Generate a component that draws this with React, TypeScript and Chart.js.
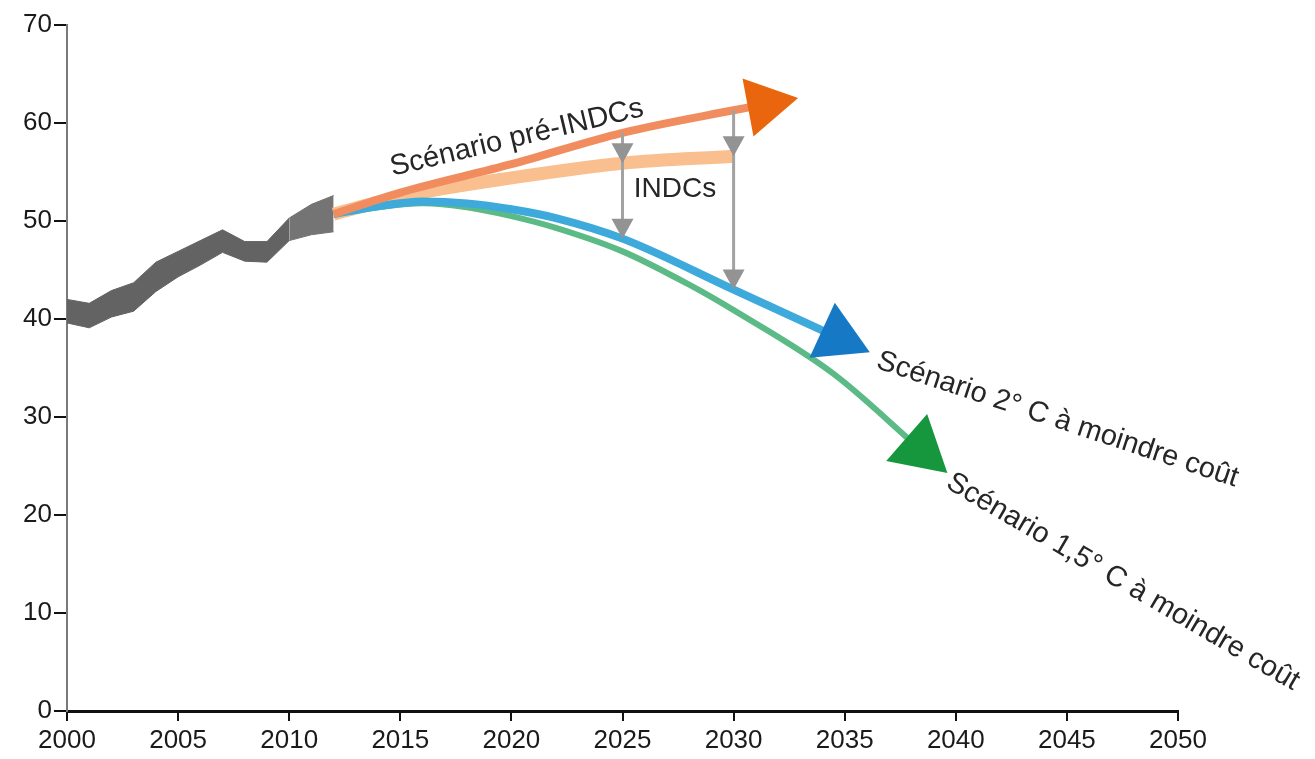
import React, { useEffect, useRef } from "react";
import { Chart, registerables } from "chart.js";

Chart.register(...registerables);

// ---------- data ----------
const histYears = [2000, 2001, 2002, 2003, 2004, 2005, 2006, 2007, 2008, 2009, 2010, 2011, 2012];
const histUpper = [42.0, 41.6, 42.9, 43.7, 45.8, 46.9, 48.0, 49.1, 47.9, 47.9, 50.3, 51.7, 52.6];
const histLower = [39.6, 39.1, 40.2, 40.8, 42.8, 44.3, 45.5, 46.8, 45.9, 45.8, 48.0, 48.6, 48.9];

const preIndcYears = [2012, 2015, 2020, 2025, 2030, 2031.4];
const preIndcValues = [50.7, 52.9, 55.8, 59.0, 61.3, 61.9];

const indcYears = [2012, 2015, 2020, 2025, 2030];
const indcValues = [50.7, 52.5, 54.4, 55.9, 56.6];

const twoDegYears = [2012, 2014, 2016, 2018, 2020, 2022, 2025, 2030, 2034.7];
const twoDegValues = [50.7, 51.5, 52.0, 51.8, 51.2, 50.3, 48.2, 43.0, 38.1];

const onePointFiveYears = [2012, 2014, 2016, 2018, 2020, 2022, 2025, 2028, 2030, 2034.5, 2038.4];
const onePointFiveValues = [50.7, 51.4, 51.8, 51.4, 50.5, 49.3, 46.9, 43.5, 40.9, 34.4, 26.7];

const gapYears = [2025, 2030];

const xTickValues = [2000, 2005, 2010, 2015, 2020, 2025, 2030, 2035, 2040, 2045, 2050];
const yTickValues = [0, 10, 20, 30, 40, 50, 60, 70];

const labelTexts = [
  "Scénario pré-INDCs",
  "INDCs",
  "Scénario 2° C à moindre coût",
  "Scénario 1,5° C à moindre coût",
];

// ---------- label placement (data coordinates) ----------
const labelPlacement = [
  { year: 2014.56, value: 55.4, angle: -13.4, align: "left", size: 29 },
  { year: 2027.36, value: 53.2, angle: 0, align: "center", size: 28 },
  { year: 2036.48, value: 35.8, angle: 18.3, align: "left", size: 29 },
  { year: 2039.68, value: 23.55, angle: 30.3, align: "left", size: 29 },
];

const FONT = "'Liberation Sans', Arial, Helvetica, sans-serif";

const toPoints = (xs: number[], ys: number[]) => xs.map((x, i) => ({ x, y: ys[i] }));
const valueAt = (xs: number[], ys: number[], yr: number) => ys[xs.indexOf(yr)];

const arrowHeadPlugin = {
  id: "arrowHeads",
  afterDatasetsDraw(chart: any) {
    const ctx = chart.ctx;
    chart.data.datasets.forEach((ds: any, i: number) => {
      if (!ds.arrowColor) return;
      const pts = chart.getDatasetMeta(i).data;
      const b = pts[pts.length - 1];
      const a = pts[pts.length - 2];
      const ang = Math.atan2(b.y - a.y, b.x - a.x);
      const r = ds.arrowRadius;
      ctx.save();
      ctx.fillStyle = ds.arrowColor;
      ctx.beginPath();
      for (let k = 0; k < 3; k++) {
        const t = ang + (k * 2 * Math.PI) / 3;
        const px = b.x + r * Math.cos(t);
        const py = b.y + r * Math.sin(t);
        if (k === 0) ctx.moveTo(px, py);
        else ctx.lineTo(px, py);
      }
      ctx.closePath();
      ctx.fill();
      ctx.restore();
    });
  },
};

const gapArrowPlugin = {
  id: "gapArrows",
  afterDatasetsDraw(chart: any) {
    const ctx = chart.ctx;
    const xs = chart.scales.x;
    const ys = chart.scales.y;
    gapYears.forEach((yr) => {
      const x = xs.getPixelForValue(yr);
      const y0 = ys.getPixelForValue(valueAt(preIndcYears, preIndcValues, yr));
      const y1 = ys.getPixelForValue(valueAt(indcYears, indcValues, yr));
      const y2 = ys.getPixelForValue(valueAt(twoDegYears, twoDegValues, yr));
      ctx.save();
      ctx.strokeStyle = "#a2a2a2";
      ctx.fillStyle = "#939393";
      ctx.lineWidth = 3;
      ctx.beginPath();
      ctx.moveTo(x, y0);
      ctx.lineTo(x, y2 - 10);
      ctx.stroke();
      [y1, y2].forEach((tip) => {
        ctx.beginPath();
        ctx.moveTo(x - 11, tip - 20);
        ctx.lineTo(x + 11, tip - 20);
        ctx.lineTo(x, tip);
        ctx.closePath();
        ctx.fill();
      });
      ctx.restore();
    });
  },
};

const textPlugin = {
  id: "scenarioTexts",
  afterDraw(chart: any) {
    const ctx = chart.ctx;
    const xs = chart.scales.x;
    const ys = chart.scales.y;
    labelTexts.forEach((txt, i) => {
      const p = labelPlacement[i];
      const x = xs.getPixelForValue(p.year);
      const y = ys.getPixelForValue(p.value);
      ctx.save();
      ctx.translate(x, y);
      ctx.rotate((p.angle * Math.PI) / 180);
      ctx.font = `${p.size}px ${FONT}`;
      ctx.fillStyle = "#262626";
      ctx.textAlign = p.align;
      ctx.textBaseline = "middle";
      ctx.fillText(txt, 0, 0);
      ctx.restore();
    });
  },
};

const histColor = (c: any) => (c.p0.parsed.x >= 2010 ? "#747474" : "#636363");

export default function App() {
  const canvasRef = useRef<HTMLCanvasElement | null>(null);

  useEffect(() => {
    if (!canvasRef.current) return;
    Chart.defaults.font.family = FONT;
    const chart = new Chart(canvasRef.current, {
      type: "line",
      data: {
        datasets: [
          {
            label: "Historique bas",
            data: toPoints(histYears, histLower),
            borderColor: "#636363",
            borderWidth: 1,
            pointRadius: 0,
            tension: 0,
            fill: false,
            order: 5,
            segment: { borderColor: histColor },
          },
          {
            label: "Historique",
            data: toPoints(histYears, histUpper),
            borderColor: "#636363",
            backgroundColor: "#636363",
            borderWidth: 1,
            pointRadius: 0,
            tension: 0,
            fill: "-1",
            order: 4,
            segment: { borderColor: histColor, backgroundColor: histColor },
          },
          {
            label: "INDCs",
            data: toPoints(indcYears, indcValues),
            borderColor: "#f9bf8f",
            borderWidth: 13,
            pointRadius: 0,
            cubicInterpolationMode: "monotone",
            borderCapStyle: "butt",
            fill: false,
            order: 3,
          },
          {
            label: "Scénario 1,5° C",
            data: toPoints(onePointFiveYears, onePointFiveValues),
            borderColor: "#5cba86",
            borderWidth: 6,
            pointRadius: 0,
            cubicInterpolationMode: "monotone",
            fill: false,
            order: 2,
            arrowColor: "#16973e",
            arrowRadius: 36,
          } as any,
          {
            label: "Scénario 2° C",
            data: toPoints(twoDegYears, twoDegValues),
            borderColor: "#3eaadc",
            borderWidth: 8,
            pointRadius: 0,
            cubicInterpolationMode: "monotone",
            fill: false,
            order: 1,
            arrowColor: "#1679c6",
            arrowRadius: 35,
          } as any,
          {
            label: "Scénario pré-INDCs",
            data: toPoints(preIndcYears, preIndcValues),
            borderColor: "#f18c5e",
            borderWidth: 8,
            pointRadius: 0,
            cubicInterpolationMode: "monotone",
            fill: false,
            order: 0,
            arrowColor: "#e9660f",
            arrowRadius: 34,
          } as any,
        ],
      },
      options: {
        animation: false,
        responsive: true,
        maintainAspectRatio: false,
        layout: { padding: { top: 25, right: 137, left: 0, bottom: 0 } },
        plugins: {
          legend: { display: false },
          tooltip: { enabled: false },
        },
        scales: {
          x: {
            type: "linear",
            min: 2000,
            max: 2050,
            afterBuildTicks: (s: any) => {
              s.ticks = xTickValues.map((v) => ({ value: v }));
            },
            afterFit: (s: any) => {
              s.height = 48;
            },
            ticks: {
              autoSkip: false,
              maxRotation: 0,
              padding: 4,
              color: "#1a1a1a",
              font: { size: 26, family: FONT },
              callback: (v: any) => String(v),
            },
            grid: {
              drawOnChartArea: false,
              drawTicks: true,
              tickLength: 10,
              color: "#111111",
              lineWidth: 2,
            },
            border: { display: true, color: "#111111", width: 3 },
          },
          y: {
            type: "linear",
            min: 0,
            max: 70,
            afterBuildTicks: (s: any) => {
              s.ticks = yTickValues.map((v) => ({ value: v }));
            },
            afterFit: (s: any) => {
              s.width = 67;
            },
            ticks: {
              padding: 2,
              color: "#1a1a1a",
              font: { size: 26, family: FONT },
              callback: (v: any) => String(v),
            },
            grid: {
              drawOnChartArea: false,
              drawTicks: true,
              tickLength: 13,
              color: "#111111",
              lineWidth: 2,
            },
            border: { display: true, color: "#7a7a7a", width: 2 },
          },
        },
      } as any,
      plugins: [gapArrowPlugin, arrowHeadPlugin, textPlugin],
    });
    return () => chart.destroy();
  }, []);

  return (
    <div
      style={{
        position: "fixed",
        left: 0,
        top: 0,
        width: 1315,
        height: 759,
        background: "#ffffff",
      }}
    >
      <canvas ref={canvasRef} />
    </div>
  );
}
